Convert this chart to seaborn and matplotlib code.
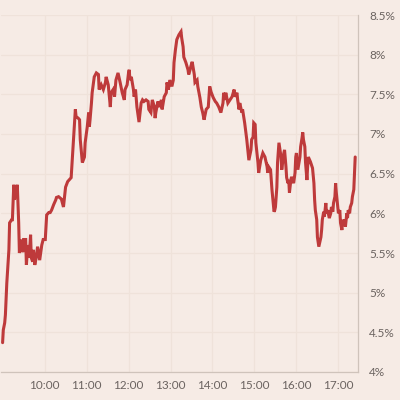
import pandas as pd
import seaborn as sns
import matplotlib.pyplot as plt
import matplotlib.dates as mdates
from matplotlib.ticker import FuncFormatter, MultipleLocator

# intraday yield
times = [
    "09:00", "09:01", "09:03", "09:04", "09:06", "09:09", "09:10", "09:13", "09:14", "09:16",
    "09:17", "09:19", "09:20", "09:21", "09:23", "09:24", "09:27", "09:29", "09:30", "09:33",
    "09:34", "09:36", "09:38", "09:40", "09:41", "09:43", "09:44", "09:46", "09:48", "09:50",
    "09:53", "09:56", "09:58", "10:01", "10:03", "10:06", "10:08", "10:10", "10:13", "10:16",
    "10:17", "10:20", "10:24", "10:27", "10:30", "10:33", "10:38", "10:41", "10:44", "10:45",
    "10:48", "10:50", "10:51", "10:54", "10:57", "10:58", "11:01", "11:03", "11:04", "11:05",
    "11:07", "11:08", "11:11", "11:14", "11:17", "11:18", "11:21", "11:24", "11:27", "11:28",
    "11:31", "11:34", "11:35", "11:38", "11:40", "11:42", "11:45", "11:48", "11:51", "11:54",
    "11:55", "11:58", "12:00", "12:01", "12:02", "12:04", "12:07", "12:08", "12:10", "12:12",
    "12:15", "12:18", "12:20", "12:22", "12:25", "12:28", "12:29", "12:32", "12:34", "12:37",
    "12:38", "12:39", "12:42", "12:44", "12:47", "12:48", "12:51", "12:54", "12:55", "12:57",
    "12:59", "13:02", "13:04", "13:05", "13:07", "13:09", "13:12", "13:15", "13:16", "13:18",
    "13:19", "13:22", "13:25", "13:26", "13:28", "13:29", "13:31", "13:34", "13:35", "13:38",
    "13:39", "13:42", "13:44", "13:46", "13:48", "13:51", "13:54", "13:56", "13:58", "14:01",
    "14:04", "14:06", "14:09", "14:12", "14:15", "14:16", "14:18", "14:19", "14:22", "14:25",
    "14:28", "14:31", "14:32", "14:35", "14:36", "14:38", "14:39", "14:42", "14:43", "14:46",
    "14:49", "14:52", "14:55", "14:56", "14:58", "14:59", "15:01", "15:02", "15:05", "15:06",
    "15:09", "15:12", "15:15", "15:18", "15:19", "15:20", "15:23", "15:25", "15:26", "15:28",
    "15:29", "15:30", "15:32", "15:33", "15:35", "15:38", "15:39", "15:42", "15:43", "15:45",
    "15:46", "15:48", "15:49", "15:50", "15:52", "15:53", "15:56", "15:58", "15:59", "16:00",
    "16:02", "16:05", "16:06", "16:08", "16:09", "16:10", "16:12", "16:13", "16:15", "16:16",
    "16:17", "16:20", "16:23", "16:25", "16:26", "16:27", "16:29", "16:30", "16:32", "16:35",
    "16:36", "16:37", "16:39", "16:40", "16:42", "16:43", "16:45", "16:46", "16:47", "16:49",
    "16:50", "16:52", "16:53", "16:55", "16:56", "16:57", "16:59", "17:00", "17:02", "17:03",
    "17:05", "17:06", "17:07", "17:09", "17:10", "17:12", "17:13", "17:14", "17:16", "17:17",
    "17:19", "17:20", "17:22", "17:23", "17:24",
]
rates = [
    4.37, 4.53, 4.62, 4.72, 5.12, 5.54, 5.88, 5.92, 5.92, 6.36,
    6.17, 6.30, 6.27, 6.36, 5.88, 5.50, 5.67, 5.51, 5.67, 5.67,
    5.35, 5.60, 5.44, 5.73, 5.44, 5.39, 5.54, 5.35, 5.44, 5.58,
    5.41, 5.60, 5.67, 5.67, 5.98, 6.01, 6.01, 6.04, 6.11, 6.17,
    6.20, 6.21, 6.18, 6.08, 6.33, 6.40, 6.45, 6.89, 7.31, 7.22,
    7.20, 7.18, 6.93, 6.64, 6.71, 6.89, 7.09, 7.27, 7.09, 7.18,
    7.39, 7.52, 7.72, 7.77, 7.75, 7.56, 7.62, 7.56, 7.65, 7.72,
    7.62, 7.34, 7.52, 7.56, 7.47, 7.68, 7.77, 7.65, 7.52, 7.43,
    7.56, 7.62, 7.77, 7.81, 7.68, 7.72, 7.56, 7.47, 7.56, 7.34,
    7.15, 7.39, 7.43, 7.41, 7.43, 7.41, 7.31, 7.27, 7.43, 7.34,
    7.20, 7.27, 7.41, 7.34, 7.43, 7.31, 7.47, 7.52, 7.65, 7.56,
    7.68, 7.60, 7.68, 7.90, 8.06, 8.19, 8.25, 8.29, 8.21, 8.10,
    7.97, 7.90, 7.81, 7.75, 7.81, 7.85, 7.91, 7.75, 7.65, 7.68,
    7.60, 7.46, 7.34, 7.27, 7.18, 7.31, 7.34, 7.60, 7.53, 7.46,
    7.41, 7.39, 7.34, 7.27, 7.39, 7.52, 7.43, 7.52, 7.39, 7.43,
    7.47, 7.56, 7.47, 7.52, 7.43, 7.31, 7.39, 7.27, 7.31, 7.14,
    6.93, 6.67, 6.80, 6.93, 6.96, 7.14, 7.12, 6.89, 6.64, 6.51,
    6.67, 6.76, 6.71, 6.59, 6.51, 6.59, 6.55, 6.30, 6.21, 6.02,
    6.04, 6.08, 6.33, 6.64, 6.89, 6.71, 6.55, 6.76, 6.80, 6.59,
    6.45, 6.38, 6.42, 6.26, 6.42, 6.46, 6.38, 6.51, 6.71, 6.76,
    6.55, 6.71, 6.84, 6.95, 7.02, 6.93, 6.84, 6.64, 6.42, 6.59,
    6.71, 6.65, 6.57, 6.38, 6.17, 6.04, 5.92, 5.70, 5.58, 5.70,
    5.79, 5.92, 6.02, 5.96, 6.13, 6.00, 6.04, 5.98, 5.94, 6.00,
    6.08, 6.02, 6.13, 6.21, 6.38, 6.26, 6.08, 6.00, 6.04, 5.88,
    5.79, 5.92, 5.88, 5.92, 5.83, 6.00, 5.94, 6.04, 6.00, 6.08,
    6.13, 6.21, 6.30, 6.51, 6.71,
]

yticks = [4, 4.5, 5, 5.5, 6, 6.5, 7, 7.5, 8, 8.5]
hours = [10, 11, 12, 13, 14, 15, 16, 17]

df = pd.DataFrame({"time": pd.to_datetime(["2024-01-02 " + t for t in times]),
                   "rate": rates})

bg = "#f6ebe5"
sns.set_theme(style="whitegrid", rc={
    "axes.facecolor": bg,
    "figure.facecolor": bg,
    "grid.color": "#efe2da",
    "grid.linewidth": 0.9,
    "axes.edgecolor": "#cfc3bb",
})
plt.rcParams["font.family"] = ["Lato", "DejaVu Sans"]

fig = plt.figure(figsize=(4, 4), dpi=100)
ax = fig.add_axes([0.003, 0.07, 0.892, 0.8925])

sns.lineplot(data=df, x="time", y="rate", color="#be3a3b", linewidth=2.2,
             solid_joinstyle="miter", ax=ax)

ax.set_ylim(4, 8.5)
ax.set_xlim(pd.Timestamp("2024-01-02 08:58"), pd.Timestamp("2024-01-02 17:28"))
ax.set_yticks(yticks)
ax.yaxis.set_major_formatter(FuncFormatter(lambda v, p: f"{v:g}%"))
ax.yaxis.tick_right()
ax.xaxis.set_major_locator(mdates.HourLocator(byhour=hours))
ax.xaxis.set_major_formatter(mdates.DateFormatter("%H:%M"))

# only the right and bottom axis lines are drawn
for side in ["top", "left"]:
    ax.spines[side].set_visible(False)
ax.spines["right"].set_linewidth(0.9)
ax.spines["bottom"].set_linewidth(0.9)

ax.tick_params(axis="both", length=0, labelsize=8.5, colors="#6b6360")
ax.tick_params(axis="y", pad=8)
ax.tick_params(axis="x", pad=6)
ax.set_xlabel("")
ax.set_ylabel("")

fig.savefig("out.png", dpi=100, facecolor=bg)
